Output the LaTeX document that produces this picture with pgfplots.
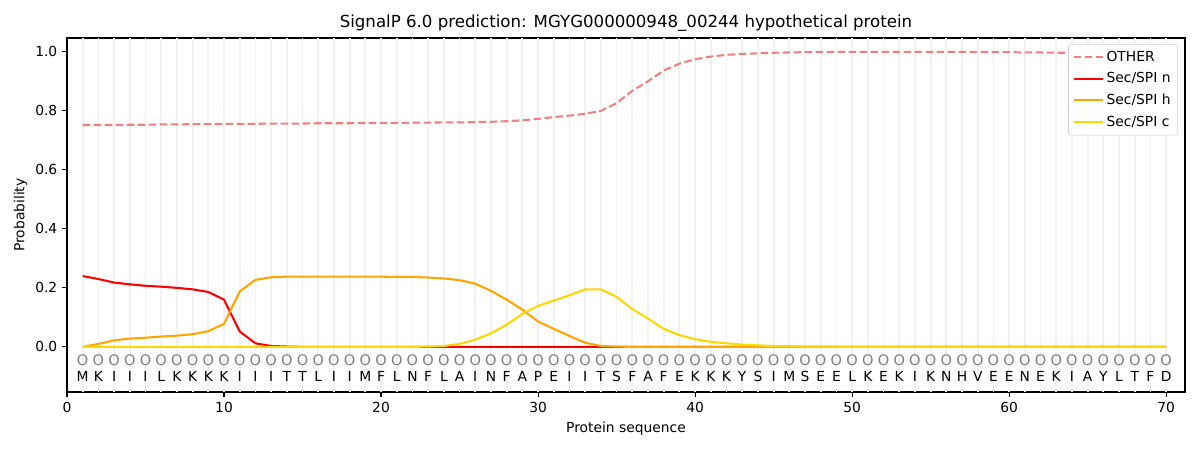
\documentclass[border=0pt]{standalone}
\usepackage{pgfplots}
\pgfplotsset{compat=1.18}
\usepackage{pgfplotstable}
\usepackage{fontspec}
\setmainfont{DejaVu Sans}
\definecolor{cother}{HTML}{F08080}
\definecolor{cn}{HTML}{FF0000}
\definecolor{ch}{HTML}{FFA500}
\definecolor{cc}{HTML}{FFD700}
\definecolor{vgrid}{HTML}{F1F1F1}
\pgfplotstableread{
x other n h c
1 0.752 0.240 0.000 0.000
2 0.752 0.230 0.010 0.000
3 0.752 0.218 0.022 0.000
4 0.753 0.212 0.028 0.000
5 0.753 0.207 0.031 0.000
6 0.754 0.204 0.035 0.000
7 0.754 0.200 0.038 0.000
8 0.755 0.195 0.043 0.000
9 0.755 0.186 0.053 0.000
10 0.756 0.160 0.078 0.000
11 0.756 0.052 0.188 0.000
12 0.756 0.012 0.227 0.000
13 0.757 0.003 0.236 0.000
14 0.757 0.001 0.238 0.000
15 0.757 0.000 0.238 0.000
16 0.758 0.000 0.238 0.000
17 0.758 0.000 0.238 0.000
18 0.758 0.000 0.238 0.000
19 0.759 0.000 0.238 0.000
20 0.759 0.000 0.238 0.000
21 0.759 0.000 0.237 0.000
22 0.760 0.000 0.237 0.000
23 0.760 0.000 0.235 0.001
24 0.761 0.000 0.232 0.003
25 0.761 0.000 0.226 0.010
26 0.762 0.000 0.214 0.024
27 0.763 0.000 0.190 0.046
28 0.765 0.000 0.160 0.075
29 0.768 0.000 0.126 0.112
30 0.773 0.000 0.086 0.139
31 0.779 0.000 0.061 0.157
32 0.784 0.000 0.037 0.175
33 0.790 0.000 0.014 0.195
34 0.800 0.000 0.003 0.195
35 0.826 0.000 0.001 0.170
36 0.868 0.000 0.000 0.128
37 0.900 0.000 0.000 0.096
38 0.937 0.000 0.000 0.061
39 0.960 0.000 0.000 0.040
40 0.975 0.000 0.000 0.026
41 0.984 0.000 0.000 0.017
42 0.990 0.000 0.000 0.012
43 0.993 0.000 0.000 0.008
44 0.995 0.000 0.000 0.005
45 0.997 0.000 0.000 0.003
46 0.998 0.000 0.000 0.002
47 0.999 0.000 0.000 0.001
48 0.999 0.000 0.000 0.001
49 1.000 0.000 0.000 0.000
50 1.000 0.000 0.000 0.000
51 1.000 0.000 0.000 0.000
52 1.000 0.000 0.000 0.000
53 1.000 0.000 0.000 0.000
54 1.000 0.000 0.000 0.000
55 1.000 0.000 0.000 0.000
56 1.000 0.000 0.000 0.000
57 1.000 0.000 0.000 0.000
58 1.000 0.000 0.000 0.000
59 0.999 0.000 0.000 0.000
60 0.999 0.000 0.000 0.000
61 0.998 0.000 0.000 0.000
62 0.998 0.000 0.000 0.000
63 0.997 0.000 0.000 0.000
64 0.997 0.000 0.000 0.000
65 0.996 0.000 0.000 0.000
66 0.996 0.000 0.000 0.000
67 0.996 0.000 0.000 0.000
68 0.996 0.000 0.000 0.000
69 0.996 0.000 0.000 0.000
70 0.996 0.000 0.000 0.000
}\datatable
\pgfplotstableread{
x o aa
1 -0.045 M
2 -0.045 K
3 -0.045 I
4 -0.045 I
5 -0.045 I
6 -0.045 L
7 -0.045 K
8 -0.045 K
9 -0.045 K
10 -0.045 K
11 -0.045 I
12 -0.045 I
13 -0.045 I
14 -0.045 T
15 -0.045 T
16 -0.045 L
17 -0.045 I
18 -0.045 I
19 -0.045 M
20 -0.045 F
21 -0.045 L
22 -0.045 N
23 -0.045 F
24 -0.045 L
25 -0.045 A
26 -0.045 I
27 -0.045 N
28 -0.045 F
29 -0.045 A
30 -0.045 P
31 -0.045 E
32 -0.045 I
33 -0.045 I
34 -0.045 T
35 -0.045 S
36 -0.045 F
37 -0.045 A
38 -0.045 F
39 -0.045 E
40 -0.045 K
41 -0.045 K
42 -0.045 K
43 -0.045 Y
44 -0.045 S
45 -0.045 I
46 -0.045 M
47 -0.045 S
48 -0.045 E
49 -0.045 E
50 -0.045 L
51 -0.045 K
52 -0.045 E
53 -0.045 K
54 -0.045 I
55 -0.045 K
56 -0.045 N
57 -0.045 H
58 -0.045 V
59 -0.045 E
60 -0.045 E
61 -0.045 N
62 -0.045 E
63 -0.045 K
64 -0.045 I
65 -0.045 A
66 -0.045 Y
67 -0.045 L
68 -0.045 T
69 -0.045 F
70 -0.045 D
}\seqtable
\begin{document}
\begin{tikzpicture}
\path[use as bounding box] (-0.67in,-0.58in) rectangle (11.33in,3.92in);
\begin{axis}[
  at={(0,0)}, anchor=south west,
  scale only axis, width=11.18in, height=3.54in,
  xmin=0, xmax=71.2, ymin=-0.153, ymax=1.047,
  xtick={0,10,...,70},
  ytick={0,0.2,0.4,0.6,0.8,1.0},
  yticklabel style={/pgf/number format/.cd, fixed, fixed zerofill, precision=1},
  /pgf/number format/assume math mode=true,
  tick pos=left, tick align=outside,
  major tick length=3.5pt,
  tick style={black, line width=0.8pt},
  ticklabel style={font=\fontsize{10}{12}\selectfont},
  axis line style={line width=0.8pt},
  extra x ticks={1,2,...,70},
  extra x tick labels={},
  extra x tick style={grid=major, major tick length=0pt, major grid style={vgrid, line width=1.3pt}},
  title={SignalP 6.0 prediction: MGYG000000948\_00244 hypothetical protein},
  title style={font=\fontsize{12}{14}\selectfont, yshift=-5pt},
  xlabel={Protein sequence}, ylabel={Probability},
  label style={font=\fontsize{10}{12}\selectfont},
  xlabel style={yshift=3pt},
  ylabel style={yshift=-1pt},
  legend cell align=left,
  legend style={font=\fontsize{10}{12}\selectfont, draw=black!20, rounded corners=2pt, inner xsep=3pt, inner ysep=3pt, row sep=2.6pt, at={(0.9935,0.983)}, anchor=north east},
  legend image code/.code={\draw[#1] (0cm,0cm) -- (0.74cm,0cm);},
]
\addplot[cother, line width=1.5pt, dash pattern=on 5.55pt off 2.4pt] table[x=x,y=other] {\datatable};
\addlegendentry{OTHER}
\addplot[cn, line width=1.5pt] table[x=x,y=n] {\datatable};
\addlegendentry{Sec/SPI n}
\addplot[ch, line width=1.5pt] table[x=x,y=h] {\datatable};
\addlegendentry{Sec/SPI h}
\addplot[cc, line width=1.5pt] table[x=x,y=c] {\datatable};
\addlegendentry{Sec/SPI c}
\addplot[draw=none, mark=none, nodes near coords={O},
  nodes near coords style={anchor=center, text=gray, font=\fontsize{10.5}{12}\selectfont}, forget plot]
  table[x=x, y=o] {\seqtable};
\addplot[draw=none, mark=none, nodes near coords, point meta=explicit symbolic,
  nodes near coords style={anchor=center, text=black, font=\fontsize{10}{12}\selectfont}, forget plot]
  table[x=x, y expr=-0.1, meta=aa] {\seqtable};
\end{axis}
\end{tikzpicture}
\end{document}
